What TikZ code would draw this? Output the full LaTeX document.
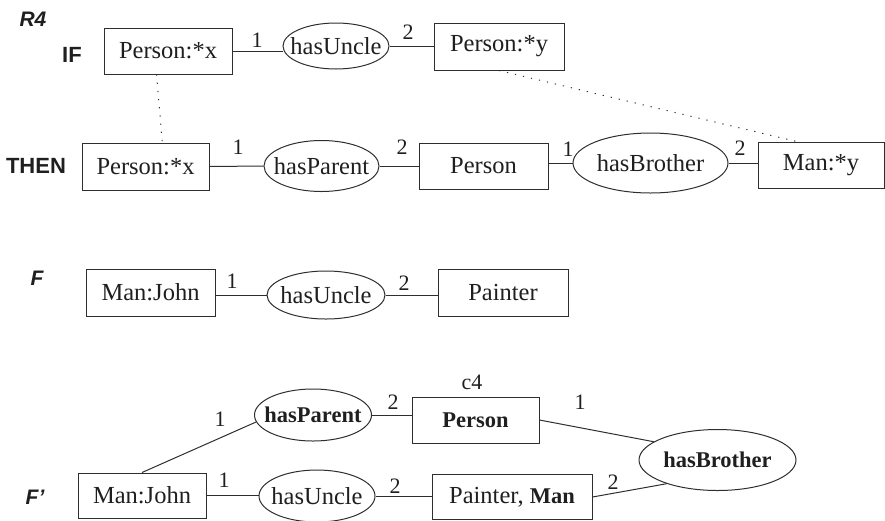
\documentclass[tikz,border=0pt]{standalone}
\usepackage{fontspec}
\setmainfont{Liberation Serif}
\newfontfamily\labelsans{Liberation Sans}
\usetikzlibrary{shapes.geometric}
% zero-width text so that an ellipse keeps its given size
\newcommand\zw[1]{\makebox[0pt]{#1}}
\begin{document}
\begin{tikzpicture}[x=1pt,y=-1pt, color=black!82, line width=1pt,
  every node/.style={text=black!88},
  cbox/.style={draw, rectangle, inner sep=0pt, minimum height=46pt,
    font=\fontsize{24.5}{28}\selectfont},
  rel/.style={draw, ellipse, inner sep=0pt,
    font=\fontsize{24.5}{28}\selectfont},
  boldtxt/.style={font=\fontsize{22.5}{26}\selectfont\bfseries},
  num/.style={inner sep=0pt, font=\fontsize{22}{24}\selectfont},
  tag/.style={inner sep=0pt, font=\labelsans\bfseries\fontsize{22}{24}\selectfont},
  itag/.style={inner sep=0pt, font=\labelsans\bfseries\itshape\fontsize{21}{23}\selectfont},
  link/.style={dash pattern=on 1.2pt off 7pt}]
\useasboundingbox (0,0) rectangle (885,520);

% ---- rule R4: IF part
\node[itag] (r4) at (33,19) {R4};
\node[tag] (if) at (72,55) {IF};
\node[cbox, minimum width=128pt] (b1) at (168,51) {Person:*x};
\node[rel, minimum width=106pt, minimum height=46pt] (u1) at (336,46) {\zw{hasUncle}};
\node[cbox, minimum width=130pt, minimum height=47pt] (b2) at (499,46.5) {Person:*y};
\draw (b1.east) -- (u1.west |- b1.east);
\draw (u1.east |- b2.west) -- (b2.west);
\node[num] (n1) at (257,40) {1};
\node[num] (n2) at (408,32) {2};

% ---- rule R4: THEN part
\node[tag] (then) at (36,166) {THEN};
\node[cbox, minimum width=127pt, minimum height=47pt] (b3) at (145.5,166.5) {Person:*x};
\node[rel, minimum width=115pt, minimum height=51pt] (p1) at (321.5,166) {\zw{hasParent}};
\node[cbox, minimum width=129pt] (b4) at (483.5,166) {Person};
\node[rel, minimum width=155pt, minimum height=60pt] (hb1) at (650.5,163) {\zw{hasBrother}};
\node[cbox, minimum width=126pt] (m1) at (821,165) {Man:*y};
\draw (b3.east) -- (p1.west);
\draw (p1.east) -- (p1.east -| b4.west);
\draw (b4.east |- hb1.west) -- (hb1.west);
\draw (hb1.east) -- (hb1.east -| m1.west);
\node[num] (n3) at (238,147) {1};
\node[num] (n4) at (402,147) {2};
\node[num] (n5) at (568,149) {1};
\node[num] (n6) at (740,148) {2};

% coreference links
\draw[link] (b1.244) -- (b3.55);
\draw[link] (b2.south) -- (m1.136);

% ---- fact F
\node[itag] (f) at (37,278) {F};
\node[cbox, minimum width=129pt, minimum height=47pt] (f1) at (150.5,292.5) {Man:John};
\node[rel, minimum width=118pt, minimum height=48pt] (f2) at (326,295) {\zw{hasUncle}};
\node[cbox, minimum width=130pt, minimum height=47pt] (f3) at (503,292.5) {Painter};
\draw (f1.east |- f2.west) -- (f2.west);
\draw (f2.east) -- (f2.east -| f3.west);
\node[num] (n7) at (232,281) {1};
\node[num] (n8) at (404,283) {2};

% ---- derived fact F'
\node[itag] (fp) at (35,497) {F’};
\node[num] (c4) at (472,382) {c4};
\node[rel, minimum width=117pt, minimum height=52pt, boldtxt] (hp2) at (313,415) {\zw{hasParent}};
\node[cbox, minimum width=127pt, boldtxt] (p2) at (475.5,420) {Person};
\node[rel, minimum width=157pt, minimum height=61pt, boldtxt] (hb2) at (717.5,460) {\zw{hasBrother}};
\node[cbox, minimum width=128pt, minimum height=45pt] (mj2) at (142,495.5) {Man:John};
\node[rel, minimum width=116pt, minimum height=52pt] (hu2) at (317,496) {\zw{hasUncle}};
\node[cbox, minimum width=160pt, minimum height=45pt] (pm2) at (512,497) {Painter, {\fontsize{22.5}{26}\selectfont\bfseries Man}};
\draw (mj2.north) -- (hp2.187);
\draw (hp2.east) -- (hp2.east -| p2.west);
\draw (p2.east) -- (hb2.164);
\draw (mj2.east) -- (mj2.east -| hu2.west);
\draw (hu2.east) -- (hu2.east -| pm2.west);
\draw (pm2.east) -- (hb2.205);
\node[num] (n9) at (220,419) {1};
\node[num] (n10) at (393,402) {2};
\node[num] (n11) at (224,480) {1};
\node[num] (n12) at (395,486) {2};
\node[num] (n13) at (580,402) {1};
\node[num] (n14) at (613,482) {2};
\end{tikzpicture}
\end{document}
